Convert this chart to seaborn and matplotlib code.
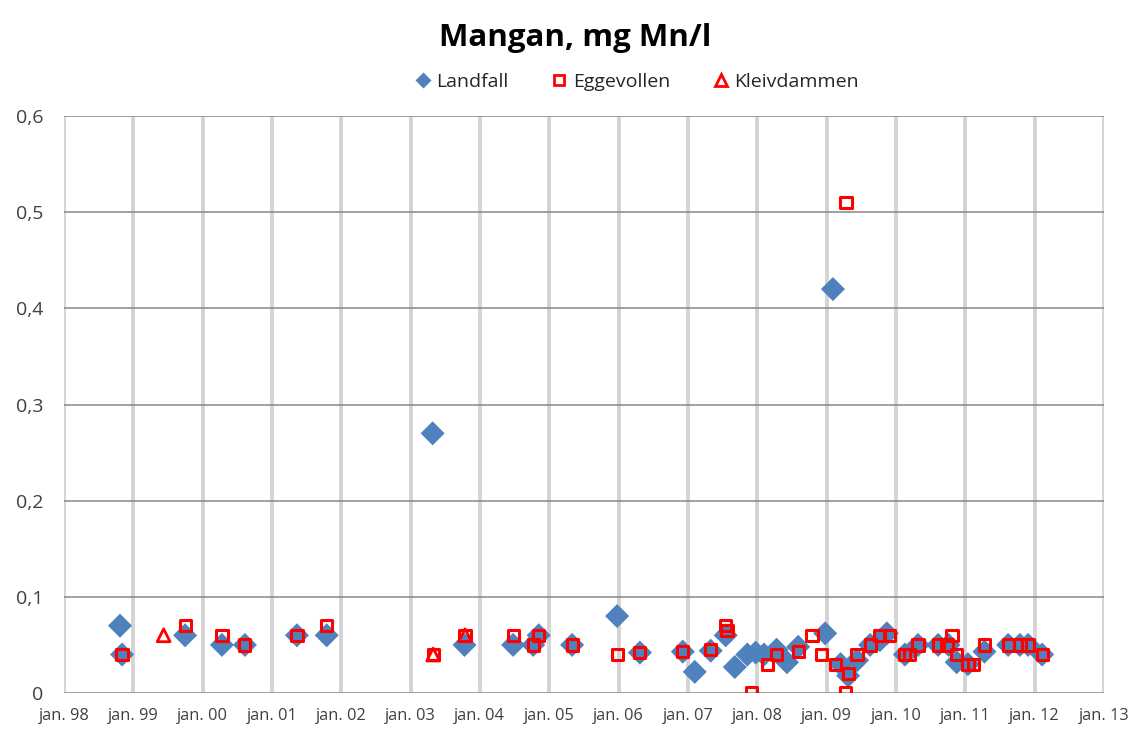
import pandas as pd
import matplotlib
matplotlib.use('Agg')
import matplotlib.pyplot as plt
import matplotlib.dates as mdates
from matplotlib.ticker import FuncFormatter
from matplotlib.lines import Line2D
import seaborn as sns

# Landfall (blue diamonds)
landfall_dates = ['1998-10-23', '1998-11-03', '1999-10-01', '2000-04-12', '2000-08-11',
                  '2001-05-12', '2001-10-16', '2003-04-27', '2003-10-12', '2004-06-24',
                  '2004-10-08', '2004-11-06', '2005-05-01', '2005-12-24', '2006-04-23',
                  '2006-12-05', '2007-02-06', '2007-05-01', '2007-07-19', '2007-09-05',
                  '2007-11-10', '2007-12-24', '2008-02-06', '2008-04-12', '2008-06-06',
                  '2008-08-04', '2008-12-24', '2009-02-03', '2009-03-15', '2009-04-24',
                  '2009-06-10', '2009-08-18', '2009-10-08', '2009-11-14', '2010-02-17',
                  '2010-04-27', '2010-08-11', '2010-10-05', '2010-11-17', '2011-01-15',
                  '2011-04-12', '2011-08-15', '2011-10-16', '2011-11-28', '2012-02-10']
landfall_vals = [0.07, 0.04, 0.06, 0.05, 0.05,
                 0.06, 0.06, 0.27, 0.05, 0.05,
                 0.05, 0.06, 0.05, 0.08, 0.042,
                 0.043, 0.022, 0.044, 0.06, 0.027,
                 0.04, 0.042, 0.04, 0.045, 0.032,
                 0.048, 0.062, 0.42, 0.03, 0.018,
                 0.034, 0.05, 0.055, 0.062, 0.04,
                 0.05, 0.05, 0.05, 0.032, 0.03,
                 0.043, 0.05, 0.05, 0.05, 0.04]

# Eggevollen (red open squares)
egge_dates = ['1998-11-03', '1999-10-01', '2000-04-12', '2000-08-11', '2001-05-12',
              '2001-10-16', '2003-04-30', '2003-10-15', '2004-06-24', '2004-10-08',
              '2004-11-06', '2005-05-01', '2005-12-28', '2006-04-23', '2006-12-05',
              '2007-05-01', '2007-07-19', '2007-07-26', '2007-12-02', '2008-02-24',
              '2008-04-12', '2008-08-04', '2008-10-16', '2008-12-06', '2009-02-17',
              '2009-04-09', '2009-04-13', '2009-04-24', '2009-06-10', '2009-08-18',
              '2009-10-08', '2009-11-28', '2010-02-17', '2010-03-15', '2010-04-27',
              '2010-08-11', '2010-09-27', '2010-10-23', '2010-11-17', '2011-01-15',
              '2011-02-13', '2011-04-12', '2011-08-15', '2011-10-16', '2011-11-28',
              '2012-02-10']
egge_vals = [0.04, 0.07, 0.06, 0.05, 0.06,
             0.07, 0.04, 0.06, 0.06, 0.05,
             0.06, 0.05, 0.04, 0.042, 0.043,
             0.045, 0.07, 0.065, 0.0, 0.03,
             0.04, 0.043, 0.06, 0.04, 0.03,
             0.0, 0.51, 0.02, 0.04, 0.05,
             0.06, 0.06, 0.04, 0.04, 0.05,
             0.05, 0.05, 0.06, 0.04, 0.03,
             0.03, 0.05, 0.05, 0.05, 0.05,
             0.04]

# Kleivdammen (red open triangles)
kleiv_dates = ['1999-06-10', '2003-04-30', '2003-10-15']
kleiv_vals = [0.06, 0.04, 0.06]

blue = '#4F81BD'
red = '#FF0000'

landfall = pd.DataFrame({'dato': pd.to_datetime(landfall_dates), 'verdi': landfall_vals})
egge = pd.DataFrame({'dato': pd.to_datetime(egge_dates), 'verdi': egge_vals})
kleiv = pd.DataFrame({'dato': pd.to_datetime(kleiv_dates), 'verdi': kleiv_vals})

sns.set_style('white')
plt.rcParams['font.family'] = ['Open Sans', 'DejaVu Sans']

fig = plt.figure(figsize=(11.36, 7.31), dpi=100)
ax = fig.add_axes([64 / 1136, 1 - 693 / 731, 1040 / 1136, 577 / 731])

sns.scatterplot(data=landfall, x='dato', y='verdi', ax=ax, marker='D', s=150,
                color=blue, edgecolor='none', zorder=3)
sns.scatterplot(data=kleiv, x='dato', y='verdi', ax=ax, marker='^', s=85,
                facecolor='none', edgecolor=red, linewidth=2, zorder=4)
sns.scatterplot(data=egge, x='dato', y='verdi', ax=ax, marker='s', s=65,
                facecolor='none', edgecolor=red, linewidth=2.2, zorder=5)

ax.set_xlim(pd.Timestamp('1998-01-01'), pd.Timestamp('2013-01-01'))
ax.set_ylim(0, 0.6)
ax.set_yticks([0, 0.1, 0.2, 0.3, 0.4, 0.5, 0.6])
ax.yaxis.set_major_formatter(FuncFormatter(lambda v, p: '0' if v == 0 else f'{v:.1f}'.replace('.', ',')))
ax.xaxis.set_major_locator(mdates.YearLocator())
ax.xaxis.set_major_formatter(mdates.DateFormatter('jan. %y'))

ax.grid(axis='x', color='#D4D4D4', linewidth=2.8, zorder=0)
ax.grid(axis='y', color='#868686', linewidth=1.1, zorder=0)
ax.set_axisbelow(True)
for s in ax.spines.values():
    s.set_visible(False)

ax.tick_params(axis='y', length=6, width=1, color='#868686', labelsize=14,
               labelcolor='#404040', pad=9)
ax.tick_params(axis='x', length=5, width=2.5, color='#D4D4D4', labelsize=11.8,
               labelcolor='#404040', pad=6)
ax.set_xlabel('')
ax.set_ylabel('')

fig.text(0.506, 0.948, 'Mangan, mg Mn/l', ha='center', va='center',
         fontsize=22.5, fontweight='bold', color='black')

handles = [
    Line2D([], [], linestyle='none', marker='D', markersize=8, color=blue, markeredgecolor='none'),
    Line2D([], [], linestyle='none', marker='s', markersize=7, markerfacecolor='none',
           markeredgecolor=red, markeredgewidth=2),
    Line2D([], [], linestyle='none', marker='^', markersize=8, markerfacecolor='none',
           markeredgecolor=red, markeredgewidth=2),
]
fig.legend(handles, ['Landfall', 'Eggevollen', 'Kleivdammen'], loc='center',
           bbox_to_anchor=(0.559, 0.888), ncol=3, frameon=False, fontsize=14,
           handletextpad=0.1, columnspacing=2.0, handlelength=1.2)

fig.savefig('out.png', dpi=100)
